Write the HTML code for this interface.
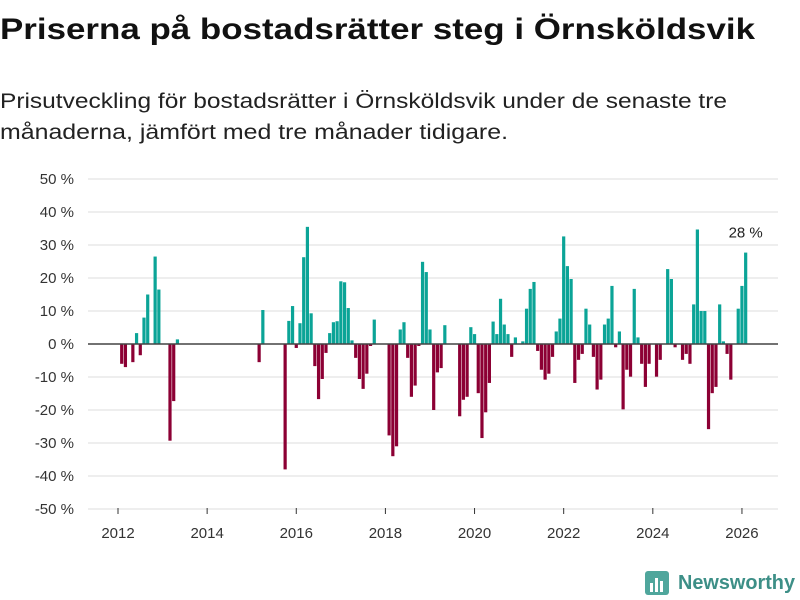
<!DOCTYPE html>
<html><head><meta charset="utf-8"><style>
body{margin:0;background:#fff;}
svg{display:block;font-family:"Liberation Sans","DejaVu Sans",sans-serif;}
</style></head><body>
<svg id="chart" width="800" height="600" viewBox="0 0 800 600">
<text x="0" y="39" font-size="30" font-weight="bold" fill="#111" textLength="755" lengthAdjust="spacingAndGlyphs">Priserna på bostadsrätter steg i Örnsköldsvik</text>
<text x="0" y="108" font-size="21" fill="#222" textLength="727" lengthAdjust="spacingAndGlyphs">Prisutveckling för bostadsrätter i Örnsköldsvik under de senaste tre</text>
<text x="0" y="139" font-size="21" fill="#222" textLength="508" lengthAdjust="spacingAndGlyphs">månaderna, jämfört med tre månader tidigare.</text>
<g id="grid"></g>
<g id="bars"></g>
<g id="axes"></g>
<g>
<rect x="645" y="571" width="24" height="24" rx="3" fill="#4fa69c"/>
<rect x="650" y="583" width="3" height="9" fill="#fff"/><rect x="655" y="578" width="3" height="14" fill="#fff"/><rect x="660" y="581" width="3" height="11" fill="#fff"/>
<text x="678" y="589" font-size="20" font-weight="bold" fill="#3d8f87" textLength="117" lengthAdjust="spacingAndGlyphs">Newsworthy</text>
</g>
</svg>
<script>
const startYear = 2012;
const values = [0,-6,-7,0,-5.5,3.3,-3.4,8,15,0,26.5,16.5,0,0,-29.3,-17.3,1.4,
0,0,0,0,0,0,0,0,0,0,0,0,0,0,0,0,0,0,0,0,0,
-5.5,10.3,0,0,0,0,0,-38,7,11.5,-1.2,6.3,26.3,35.5,9.3,-6.7,-16.7,-10.6,-2.7,3.3,6.6,6.9,19,18.7,10.9,1.1,-4.2,-10.6,-13.6,-9,-0.6,7.4,0,0,0,
-27.7,-34,-31,4.4,6.6,-4.2,-16,-12.6,-0.6,24.9,21.8,4.4,-20,-8.6,-7.3,5.7,0,0,0,
-21.9,-16.9,-16,5.1,3,-14.9,-28.5,-20.7,-11.8,6.8,3,13.7,5.9,3,-3.9,2,0,0.8,10.7,16.7,18.8,-2.1,-7.8,-10.8,-9,-3.9,3.8,7.7,32.6,23.6,19.7,-11.8,-4.8,-3,10.7,5.9,-3.9,-13.8,-10.8,5.9,7.7,17.6,-1,3.8,-19.8,-7.8,-9.9,16.7,2,-6,-13,-6,0,-9.9,-4.8,0,22.7,19.7,-1,0,-4.8,-3,-6,12,34.7,10,10,-25.8,-14.9,-13,12,0.8,-3,-10.8,0,10.7,17.6,27.7];
const yTicks = [50,40,30,20,10,0,-10,-20,-30,-40,-50];
const xTicks = [2012,2014,2016,2018,2020,2022,2024,2026];
const lastLabel = "28 %";

const NS="http://www.w3.org/2000/svg";
const X0=118, PXM=3.714, Y0=344, PXV=3.3;
function xm(m){return X0+m*PXM;}
function xy(yr){return X0+(yr-startYear)*12*PXM;}
function yv(v){return Y0-v*PXV;}
function mk(tag,attrs,parent){const e=document.createElementNS(NS,tag);for(const k in attrs)e.setAttribute(k,attrs[k]);parent.appendChild(e);return e;}
const grid=document.getElementById('grid'),bars=document.getElementById('bars'),axes=document.getElementById('axes');
yTicks.forEach(t=>{
  if(t!==0){const l=mk('line',{x1:88,x2:778,y1:yv(t),y2:yv(t),stroke:'#dedede','stroke-width':1},grid);
  
  }
  const tx=mk('text',{x:74,y:yv(t)+5,'text-anchor':'end','font-size':15,fill:'#333'},axes);
  tx.textContent=t+' %';
  
  
});
xTicks.forEach(t=>{
  const l=mk('line',{x1:xy(t),x2:xy(t),y1:508,y2:514,stroke:'#333','stroke-width':1},axes);
  
  
  const tx=mk('text',{x:xy(t),y:538,'text-anchor':'middle','font-size':15,fill:'#333'},axes);
  tx.textContent=t;
  
  
});
values.forEach((v,m)=>{
  if(v===0)return;
  const y=Math.min(yv(v),Y0),h=Math.abs(yv(v)-Y0);
  const r=mk('rect',{x:xm(m)-1.6,y:y,width:3.2,height:h,fill:v>0?'#0ba497':'#8c0034'},bars);
  
  
});
const z=mk('line',{x1:88,x2:778,y1:Y0,y2:Y0,stroke:'#444','stroke-width':1.5},axes);


const lm=values.length-1;
const lab=mk('text',{x:xm(lm),y:yv(values[lm])-15,'text-anchor':'middle','font-size':15,fill:'#222'},axes);
lab.textContent=lastLabel;


</script>
</body></html>
